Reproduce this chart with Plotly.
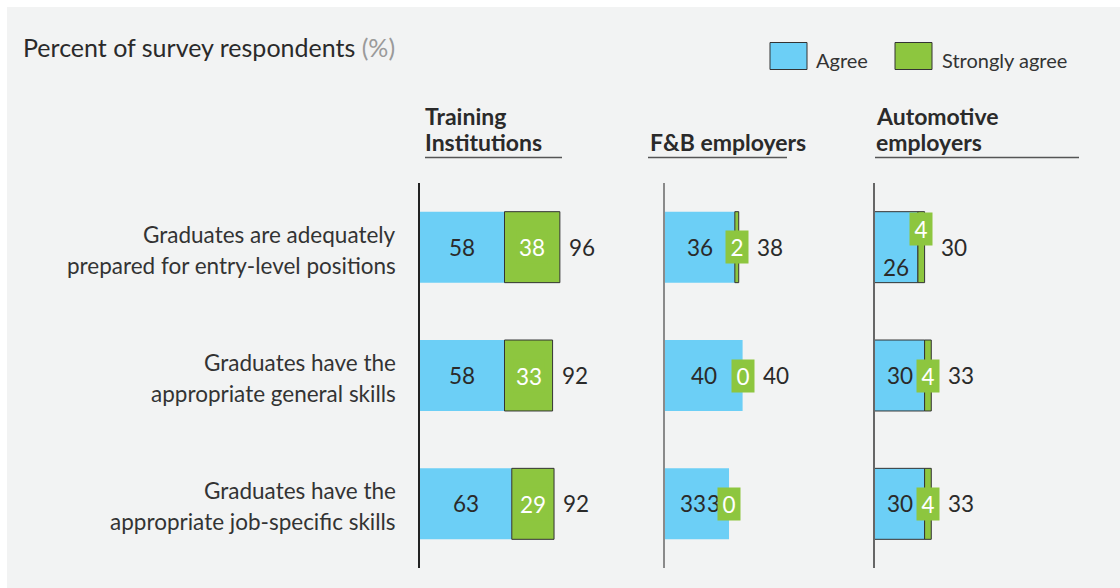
import plotly.graph_objects as go

# ---------------- data ----------------
categories = [
    ["Graduates are adequately", "prepared for entry-level positions"],
    ["Graduates have the", "appropriate general skills"],
    ["Graduates have the", "appropriate job-specific skills"],
]
groups = [["Training", "Institutions"], ["F&B employers"], ["Automotive", "employers"]]
series_names = ["Agree", "Strongly agree"]

agree_training = [58, 58, 63]
strong_training = [38, 33, 29]
total_training = [96, 92, 92]

agree_fb = [36, 40, 33]
strong_fb = [2, 0, 0]
total_fb = [38, 40, 33]

agree_auto = [26, 30, 30]
strong_auto = [4, 4, 4]
total_auto = [30, 33, 33]

title_text = "Percent of survey respondents"
unit_text = "(%)"

# ---------------- style / layout ----------------
W, H = 1120, 588
BG = "#f2f3f3"
BLUE = "#6ccff6"
GREEN = "#8dc63f"
DARK = "#2a2a2a"
FONT = "Lato"

def px(x):
    return x / W

def py(y):
    return 1 - y / H

panels = [
    dict(agree=agree_training, strong=strong_training, total=total_training,
         x0=420, x1=640, scale=1.457, axis_color="#222222", blue_outline=False),
    dict(agree=agree_fb, strong=strong_fb, total=total_fb,
         x0=665, x1=860, scale=1.94, axis_color="#8a8a8a", blue_outline=False),
    dict(agree=agree_auto, strong=strong_auto, total=total_auto,
         x0=874.5, x1=1110, scale=1.67, axis_color="#666666", blue_outline=True),
]
# label placement tweaks (pixels): (panel, row) -> shifts
agree_yshift = {(2, 0): -20}
agree_xshift = {(1, 2): -4}
green_yshift = {(2, 0): 18}
total_xshift_override = {(1, 2): -24}

Y_TOP, Y_BOT = 183, 568
ydom = [py(Y_BOT), py(Y_TOP)]
rows = list(range(len(categories)))
BAR_W = 0.553
VAL_SIZE = 22.5

fig = go.Figure()
annotations = []
shapes = []

# background panel
shapes.append(dict(type="rect", xref="paper", yref="paper", x0=px(7), x1=1, y0=0, y1=py(7),
                   fillcolor=BG, line=dict(width=0), layer="below"))

for i, p in enumerate(panels):
    sfx = "" if i == 0 else str(i + 1)
    xa, ya = "x" + sfx, "y" + sfx
    blue_lw = [1 if p["blue_outline"] else 0 for _ in rows]
    green_lw = [1 if v > 0 else 0 for v in p["strong"]]
    fig.add_trace(go.Bar(x=p["agree"], y=rows, orientation="h", width=BAR_W,
                         marker=dict(color=BLUE, line=dict(color="#333333", width=blue_lw)),
                         name=series_names[0], showlegend=False, xaxis=xa, yaxis=ya,
                         hoverinfo="skip"))
    fig.add_trace(go.Bar(x=p["strong"], y=rows, orientation="h", width=BAR_W,
                         base=p["agree"],
                         marker=dict(color=GREEN, line=dict(color="#333333", width=green_lw)),
                         name=series_names[1], showlegend=False, xaxis=xa, yaxis=ya,
                         hoverinfo="skip"))
    rng = (p["x1"] - p["x0"]) / p["scale"]
    fig.update_layout(**{
        ("xaxis" + sfx): dict(domain=[px(p["x0"]), px(p["x1"])], range=[0, rng],
                              showgrid=False, zeroline=False, showticklabels=False,
                              ticks="", showline=False, anchor=ya, fixedrange=True),
        ("yaxis" + sfx): dict(domain=ydom, range=[2.5, -0.5], showgrid=False,
                              zeroline=False, showticklabels=False, ticks="",
                              showline=True, linecolor=p["axis_color"], linewidth=1.6,
                              anchor=xa, fixedrange=True),
    })
    # value labels
    for r in rows:
        a, s, t = p["agree"][r], p["strong"][r], p["total"][r]
        annotations.append(dict(x=a / 2, y=r, xref=xa, yref=ya, text=str(a), showarrow=False,
                                xanchor="center", yanchor="middle",
                                xshift=agree_xshift.get((i, r), 0),
                                yshift=agree_yshift.get((i, r), 0),
                                font=dict(family=FONT, size=VAL_SIZE, color=DARK)))
        half_box = 11 if s < 10 else 16
        xs = max(0, half_box - s / 2 * p["scale"]) + 7
        xs = total_xshift_override.get((i, r), xs)
        annotations.append(dict(x=a + s, y=r, xref=xa, yref=ya, text=str(t), showarrow=False,
                                xanchor="left", yanchor="middle", xshift=xs,
                                font=dict(family=FONT, size=VAL_SIZE, color=DARK)))
    for r in rows:
        a, s = p["agree"][r], p["strong"][r]
        annotations.append(dict(x=a + s / 2, y=r, xref=xa, yref=ya, text=str(s), showarrow=False,
                                xanchor="center", yanchor="middle",
                                yshift=green_yshift.get((i, r), 0),
                                width=22 if s < 10 else 30, height=32, borderpad=0,
                                bgcolor=GREEN,
                                font=dict(family=FONT, size=VAL_SIZE, color="white")))

# category labels
row_px = [Y_TOP + (r + 0.5) * (Y_BOT - Y_TOP) / 3 for r in rows]
for r, lines in enumerate(categories):
    for k, line in enumerate(lines):
        yc = row_px[r] + (-13 if k == 0 else 18)
        annotations.append(dict(x=px(398), y=py(yc), xref="paper", yref="paper", text=line,
                                showarrow=False, xanchor="right", yanchor="middle",
                                font=dict(family=FONT, size=22.5, color="#333333")))

# group headers
header_x = [423, 648, 874]
underline = [(425, 562), (648, 787), (875, 1079)]
for g, lines in enumerate(groups):
    ys = [142] if len(lines) == 1 else [116, 142]
    for line, yc in zip(lines, ys):
        annotations.append(dict(x=px(header_x[g]), y=py(yc), xref="paper", yref="paper",
                                text="<b>" + line + "</b>", showarrow=False,
                                xanchor="left", yanchor="middle",
                                font=dict(family=FONT, size=23, color=DARK)))
    x0, x1 = underline[g]
    shapes.append(dict(type="line", xref="paper", yref="paper", x0=px(x0), x1=px(x1),
                       y0=py(157.5), y1=py(157.5), line=dict(color="#555555", width=1.5)))

# title
annotations.append(dict(x=px(21), y=py(47), xref="paper", yref="paper",
                        text=title_text + " <span style='color:#9a9a9a'>" + unit_text + "</span>",
                        showarrow=False, xanchor="left", yanchor="middle",
                        font=dict(family=FONT, size=25, color=DARK)))

# legend
leg = [(770, 807, BLUE, 814), (895, 932, GREEN, 940)]
for (x0, x1, col, tx), name in zip(leg, series_names):
    shapes.append(dict(type="rect", xref="paper", yref="paper", x0=px(x0), x1=px(x1),
                       y0=py(69.5), y1=py(42.5), fillcolor=col,
                       line=dict(color="#333333", width=1)))
    annotations.append(dict(x=px(tx), y=py(60), xref="paper", yref="paper", text=name,
                            showarrow=False, xanchor="left", yanchor="middle",
                            font=dict(family=FONT, size=20, color="#333333")))

fig.update_layout(width=W, height=H, autosize=False,
                  margin=dict(l=0, r=0, t=0, b=0, pad=0),
                  paper_bgcolor="white", plot_bgcolor="rgba(0,0,0,0)",
                  barmode="overlay", showlegend=False,
                  annotations=annotations, shapes=shapes)

fig.write_html("out.html", config={"displayModeBar": False},
               post_script="document.body.style.margin='0';document.body.style.overflow='hidden';")
